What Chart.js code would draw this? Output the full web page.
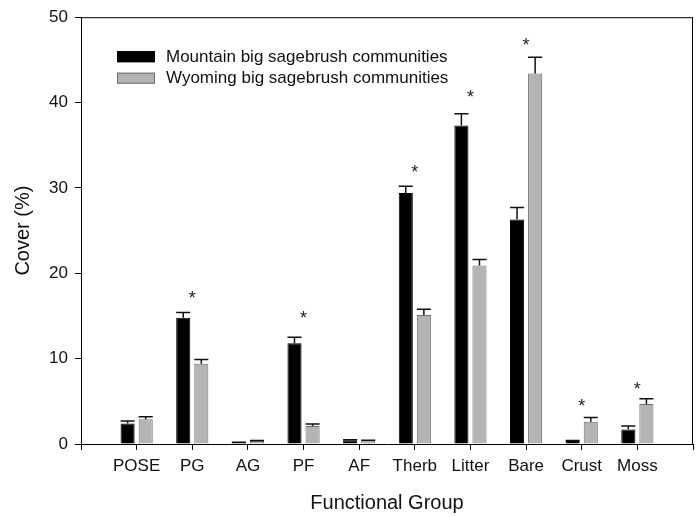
<!DOCTYPE html>
<html>
<head>
<meta charset="utf-8">
<script src="https://cdn.jsdelivr.net/npm/chart.js@4.4.1/dist/chart.umd.min.js"></script>
<style>
  html, body { margin: 0; padding: 0; background: #fff; }
  #wrap { width: 699px; height: 517px; }
</style>
</head>
<body>
<div id="wrap"><canvas id="c" width="699" height="517"></canvas></div>
<script>
// ---- data ----
const categories = ['POSE', 'PG', 'AG', 'PF', 'AF', 'Therb', 'Litter', 'Bare', 'Crust', 'Moss'];
const mountainLabel = 'Mountain big sagebrush communities';
const wyomingLabel = 'Wyoming big sagebrush communities';
const mountainValues = [2.4, 14.8, 0.15, 11.8, 0.45, 29.4, 37.3, 26.3, 0.35, 1.7];
const mountainErrors = [0.3, 0.6, 0.05, 0.7, 0.05, 0.8, 1.4, 1.4, 0.05, 0.4];
const wyomingValues = [2.9, 9.4, 0.35, 2.1, 0.4, 15.1, 20.9, 43.4, 2.6, 4.7];
const wyomingErrors = [0.3, 0.5, 0.05, 0.25, 0.05, 0.7, 0.7, 1.9, 0.5, 0.6];
// significance markers: category index and height (cover %) of the asterisk
const starCategories = [1, 3, 5, 6, 7, 8, 9];
const starHeights = [17.6, 15.3, 32.4, 41.1, 47.2, 4.9, 7.0];
const yTicks = [0, 10, 20, 30, 40, 50];

const FONT = "'Liberation Sans', Arial, Helvetica, sans-serif";
const BLACK_FILL = '#000000';
const GRAY_FILL = '#b4b4b4';
const GRAY_BORDER = '#6e6e6e';

const toXY = arr => arr.map((v, i) => ({ x: i, y: v }));

const errorBarPlugin = {
  id: 'errorBars',
  afterDatasetsDraw(chart) {
    const ctx = chart.ctx;
    const yScale = chart.scales.y;
    const errs = [mountainErrors, wyomingErrors];
    ctx.save();
    ctx.strokeStyle = '#111';
    ctx.lineWidth = 1.5;
    chart.data.datasets.forEach((ds, di) => {
      const meta = chart.getDatasetMeta(di);
      meta.data.forEach((bar, i) => {
        const v = ds.data[i].y;
        const e = errs[di][i];
        const yTop = yScale.getPixelForValue(v + e);
        const half = bar.width / 2;
        ctx.beginPath();
        ctx.moveTo(bar.x, bar.y);
        ctx.lineTo(bar.x, yTop);
        ctx.moveTo(bar.x - half, yTop);
        ctx.lineTo(bar.x + half, yTop);
        ctx.stroke();
      });
    });
    ctx.restore();
  }
};

const decorPlugin = {
  id: 'decor',
  afterDraw(chart) {
    const ctx = chart.ctx;
    const a = chart.chartArea;
    const xs = chart.scales.x, ys = chart.scales.y;
    ctx.save();
    // top and right frame
    ctx.strokeStyle = '#000';
    ctx.lineWidth = 1;
    ctx.beginPath();
    ctx.moveTo(a.left, a.top + 0.5);
    ctx.lineTo(a.right, a.top + 0.5);
    ctx.moveTo(a.right - 0.5, a.top);
    ctx.lineTo(a.right - 0.5, a.bottom);
    ctx.stroke();
    // asterisks
    ctx.fillStyle = '#222';
    ctx.font = '18px ' + FONT;
    ctx.textAlign = 'center';
    ctx.textBaseline = 'alphabetic';
    starCategories.forEach((c, k) => {
      const px = xs.getPixelForValue(c);
      const py = ys.getPixelForValue(starHeights[k]);
      ctx.fillText('*', px, py + 0.57 * 18);
    });
    // legend
    const lx = a.left + 36, ly = a.top + 40;
    const items = [
      { label: mountainLabel, fill: BLACK_FILL, border: BLACK_FILL },
      { label: wyomingLabel, fill: GRAY_FILL, border: GRAY_BORDER }
    ];
    ctx.font = '17px ' + FONT;
    ctx.textAlign = 'left';
    ctx.textBaseline = 'middle';
    items.forEach((it, k) => {
      const cy = ly + k * 21.5;
      ctx.fillStyle = it.fill;
      ctx.fillRect(lx, cy - 6, 38, 11);
      ctx.strokeStyle = it.border;
      ctx.lineWidth = 1;
      ctx.strokeRect(lx + 0.5, cy - 5.5, 37, 10);
      ctx.fillStyle = '#111';
      ctx.fillText(it.label, lx + 49, cy);
    });
    ctx.restore();
  }
};

new Chart(document.getElementById('c'), {
  type: 'bar',
  data: {
    datasets: [
      {
        label: mountainLabel,
        data: toXY(mountainValues),
        backgroundColor: BLACK_FILL,
        borderColor: BLACK_FILL,
        borderWidth: 1,
        categoryPercentage: 0.65,
        barPercentage: 0.78
      },
      {
        label: wyomingLabel,
        data: toXY(wyomingValues),
        backgroundColor: GRAY_FILL,
        borderColor: GRAY_BORDER,
        borderWidth: 1,
        categoryPercentage: 0.65,
        barPercentage: 0.78
      }
    ]
  },
  options: {
    responsive: false,
    animation: false,
    devicePixelRatio: 1,
    layout: { padding: { top: 15, right: 5, left: 0, bottom: 0 } },
    plugins: { legend: { display: false }, tooltip: { enabled: false } },
    scales: {
      x: {
        type: 'linear',
        offset: false,
        min: -1,
        max: 10,
        afterBuildTicks: s => { s.ticks = []; for (let v = -1; v <= 10; v++) s.ticks.push({ value: v }); },
        afterFit: s => { s.height = 73; },
        ticks: {
          autoSkip: false,
          maxRotation: 0,
          padding: 6,
          color: '#111',
          font: { family: FONT, size: 17 },
          callback: v => (categories[v] !== undefined ? categories[v] : '')
        },
        grid: { offset: false, drawOnChartArea: false, drawTicks: true, tickLength: 6, color: '#000', tickColor: '#000' },
        border: { display: true, color: '#000', width: 1 },
        title: {
          display: true,
          text: 'Functional Group',
          color: '#111',
          font: { family: FONT, size: 20 },
          padding: { top: 0, bottom: 2 }
        }
      },
      y: {
        min: 0,
        max: 50,
        afterBuildTicks: s => { s.ticks = yTicks.map(v => ({ value: v })); },
        afterFit: s => { s.width = 81; },
        ticks: {
          padding: 7,
          color: '#111',
          font: { family: FONT, size: 17 }
        },
        grid: { drawOnChartArea: false, drawTicks: true, tickLength: 6, color: '#000', tickColor: '#000' },
        border: { display: true, color: '#000', width: 1 },
        title: {
          display: true,
          text: 'Cover (%)',
          color: '#111',
          font: { family: FONT, size: 20 },
          padding: { top: 11, bottom: 0 }
        }
      }
    }
  },
  plugins: [errorBarPlugin, decorPlugin]
});
</script>
</body>
</html>
